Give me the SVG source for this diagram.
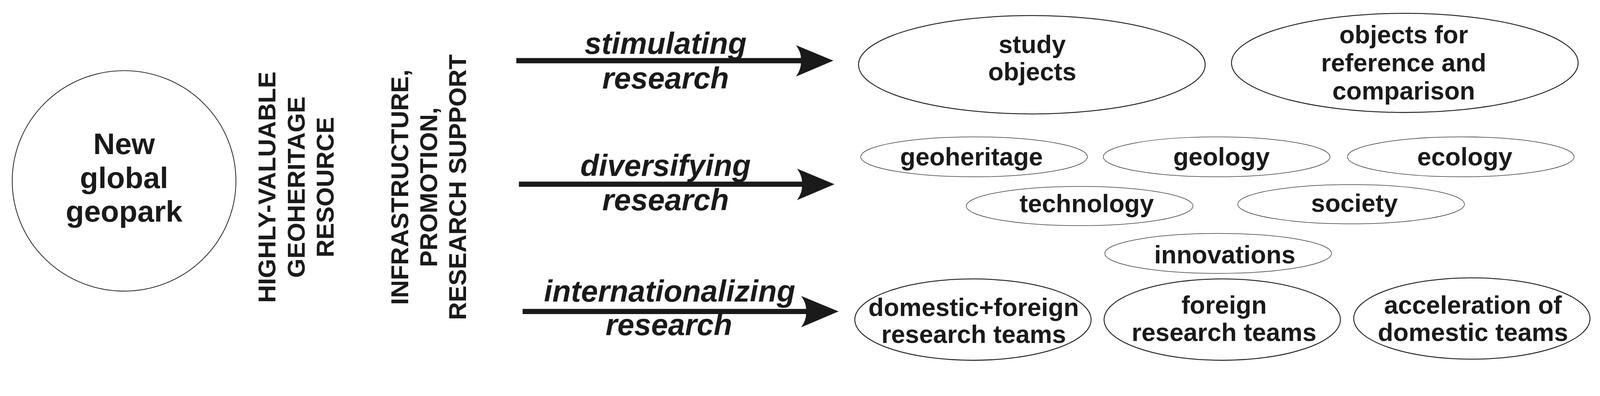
<svg xmlns="http://www.w3.org/2000/svg" xmlns:xlink="http://www.w3.org/1999/xlink" width="4320" height="1015" viewBox="0 0 4320 1015">
<style>
text{font-family:"Liberation Sans",Arial,sans-serif;font-weight:bold;fill:#1a1a1a;text-anchor:middle}
.big{font-size:81px}
.vert{font-size:67px}
.lab{font-size:82px;font-style:italic}
.nt{font-size:68px}
.thick{fill:none;stroke:#1a1a1a;stroke-width:2.4}
.thin{fill:none;stroke:#1a1a1a;stroke-width:1.3}
.shaft{stroke:#1a1a1a;stroke-width:14;fill:none}
.head{fill:#1a1a1a}
</style>
<defs>
<path id="head" class="head" d="M0,0 L-101,-42 Q-85,-20 -88,0 Q-85,20 -101,43 Z"/>
</defs>
<rect width="4320" height="1015" fill="#ffffff"/>
<g transform="scale(0.94815)">

<g id="geopark">
<ellipse cx="335" cy="489" rx="302" ry="298" fill="none" stroke="#1a1a1a" stroke-width="2"/>
<text class="big" x="335" y="417">New</text>
<text class="big" x="335" y="508">global</text>
<text class="big" x="335" y="599">geopark</text>
</g>

<g id="resource">
<text class="vert" transform="translate(744,506) rotate(-90)">HIGHLY-VALUABLE</text>
<text class="vert" transform="translate(823,506) rotate(-90)">GEOHERITAGE</text>
<text class="vert" transform="translate(901,506) rotate(-90)">RESOURCE</text>
</g>

<g id="support">
<text class="vert" transform="translate(1102,506) rotate(-90)">INFRASTRUCTURE,</text>
<text class="vert" transform="translate(1180,506) rotate(-90)">PROMOTION,</text>
<text class="vert" transform="translate(1258,506) rotate(-90)">RESEARCH SUPPORT</text>
</g>

<g id="connectors">
<line class="shaft" x1="1394" y1="164" x2="2165" y2="164"/>
<use xlink:href="#head" href="#head" transform="translate(2250,164)"/>
<line class="shaft" x1="1401" y1="498" x2="2168" y2="498"/>
<use xlink:href="#head" href="#head" transform="translate(2253,498)"/>
<line class="shaft" x1="1411" y1="842" x2="2179" y2="842"/>
<use xlink:href="#head" href="#head" transform="translate(2264,842)"/>
<text class="lab" x="1797" y="146">stimulating</text>
<text class="lab" x="1797" y="239">research</text>
<text class="lab" x="1797" y="476">diversifying</text>
<text class="lab" x="1797" y="568">research</text>
<text class="lab" x="1808" y="815">internationalizing</text>
<text class="lab" x="1806" y="906">research</text>
</g>

<g id="study-objects">
<ellipse class="thick" cx="2786" cy="175" rx="468" ry="133"/>
<text class="nt" x="2787" y="143">study</text>
<text class="nt" x="2787" y="217">objects</text>
</g>

<g id="reference-objects">
<ellipse class="thick" cx="3793" cy="170" rx="468" ry="134"/>
<text class="nt" x="3790" y="117">objects for</text>
<text class="nt" x="3790" y="193">reference and</text>
<text class="nt" x="3790" y="269">comparison</text>
</g>

<g id="geoheritage">
<ellipse class="thin" cx="2630" cy="424" rx="306" ry="54"/>
<text class="nt" x="2623" y="447">geoheritage</text>
</g>

<g id="geology">
<ellipse class="thin" cx="3285" cy="424" rx="306" ry="54"/>
<text class="nt" x="3298" y="447">geology</text>
</g>

<g id="ecology">
<ellipse class="thin" cx="3944" cy="424" rx="306" ry="54"/>
<text class="nt" x="3955" y="447">ecology</text>
</g>

<g id="technology">
<ellipse class="thin" cx="2915" cy="557" rx="306" ry="53"/>
<text class="nt" x="2934" y="574">technology</text>
</g>

<g id="society">
<ellipse class="thin" cx="3648" cy="552" rx="306" ry="53"/>
<text class="nt" x="3657" y="573">society</text>
</g>

<g id="innovations">
<ellipse class="thin" cx="3289" cy="685" rx="306" ry="54"/>
<text class="nt" x="3307" y="712">innovations</text>
</g>

<g id="domestic-foreign">
<ellipse class="thick" cx="2627" cy="864" rx="319" ry="110"/>
<text class="nt" x="2629" y="854">domestic+foreign</text>
<text class="nt" x="2629" y="927">research teams</text>
</g>

<g id="foreign">
<ellipse class="thick" cx="3300" cy="864" rx="319" ry="110"/>
<text class="nt" x="3305" y="848">foreign</text>
<text class="nt" x="3305" y="922">research teams</text>
</g>

<g id="acceleration">
<ellipse class="thick" cx="3974" cy="861" rx="319" ry="110"/>
<text class="nt" x="3977" y="848">acceleration of</text>
<text class="nt" x="3977" y="922">domestic teams</text>
</g>
</g>
</svg>
